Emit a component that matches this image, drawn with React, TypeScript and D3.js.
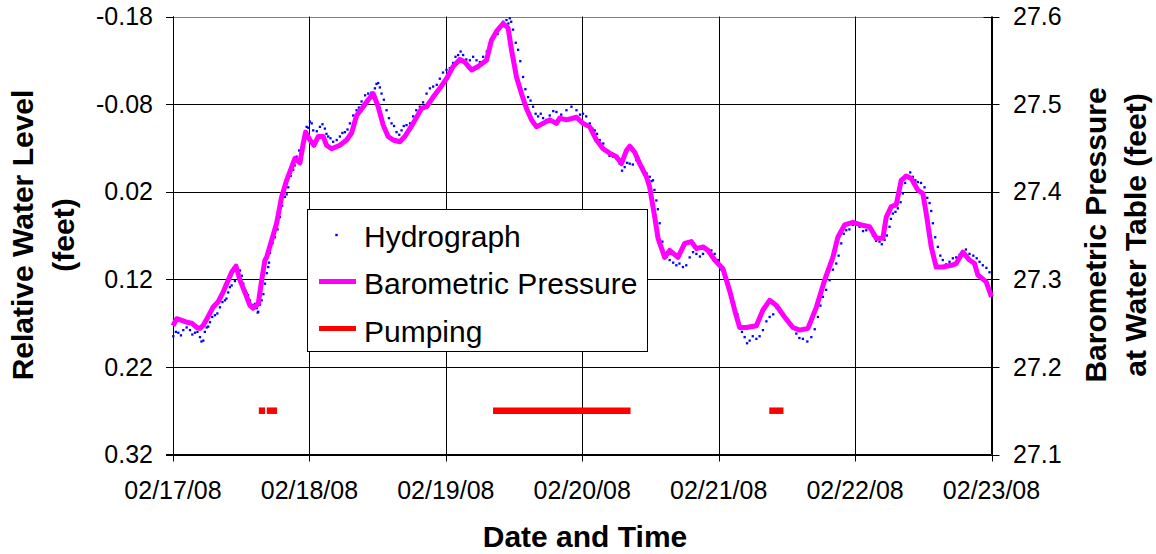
import React from "react";
import * as d3 from "d3";

// ---- Data (hours since 02/17/08 00:00) ----
// Hydrograph dot band, read in two passes (A: band centre, B: readings between them)
const hydroTimeA = [0.05,0.93,1.81,2.99,3.87,4.75,5.33,5.92,6.51,7.38,8.26,9.14,9.72,10.32,11.48,11.78,12.36,12.96,13.54,14.12,14.72,15.0,15.6,16.18,16.76,17.05,17.93,18.81,19.69,20.27,21.15,21.75,22.63,23.51,24.09,24.67,25.85,26.72,27.3,28.18,29.36,30.24,31.12,32.3,33.18,34.34,35.52,36.1,36.69,37.57,38.45,39.33,40.21,41.09,42.25,43.43,44.61,45.77,46.94,48.12,49.28,50.16,51.04,52.22,53.4,54.56,55.74,56.62,57.49,58.67,59.25,59.83,60.71,61.59,62.47,63.35,64.23,65.11,66.28,67.46,69.22,70.98,72.14,73.32,74.2,75.07,76.25,77.41,78.59,79.47,80.35,81.53,82.69,83.87,84.45,85.04,85.62,86.5,87.38,88.56,89.72,90.9,92.08,93.24,94.71,95.87,97.05,97.93,98.81,99.69,100.57,101.45,102.63,103.79,104.97,106.15,107.3,108.48,109.66,110.82,112.3,113.46,114.34,115.52,116.69,117.57,118.45,119.61,120.79,121.97,123.13,124.3,125.18,126.06,126.64,127.52,128.4,129.28,130.16,131.04,132.22,133.1,133.68,134.56,135.43,136.61,137.79,138.95,140.13,141.4,142.47,143.65];
const hydroLevelA = [0.185,0.181,0.178,0.178,0.181,0.186,0.190,0.175,0.169,0.161,0.152,0.144,0.135,0.127,0.113,0.110,0.125,0.136,0.144,0.150,0.153,0.157,0.144,0.125,0.106,0.090,0.072,0.049,0.026,0.015,-0.005,-0.020,-0.024,-0.054,-0.060,-0.050,-0.054,-0.052,-0.043,-0.037,-0.043,-0.048,-0.058,-0.073,-0.083,-0.092,-0.098,-0.104,-0.092,-0.073,-0.058,-0.048,-0.050,-0.056,-0.066,-0.077,-0.092,-0.100,-0.109,-0.119,-0.127,-0.136,-0.136,-0.130,-0.130,-0.134,-0.149,-0.157,-0.168,-0.176,-0.178,-0.165,-0.142,-0.111,-0.088,-0.077,-0.066,-0.064,-0.067,-0.071,-0.073,-0.073,-0.069,-0.058,-0.050,-0.039,-0.027,-0.020,-0.012,-0.008,-0.012,-0.016,-0.008,0.003,0.007,0.030,0.056,0.091,0.098,0.104,0.106,0.095,0.091,0.091,0.087,0.098,0.117,0.133,0.152,0.171,0.186,0.190,0.188,0.178,0.163,0.152,0.159,0.171,0.182,0.188,0.186,0.163,0.140,0.121,0.102,0.079,0.064,0.058,0.060,0.064,0.070,0.077,0.075,0.060,0.045,0.039,0.022,0.003,0.003,0.009,0.015,0.033,0.056,0.083,0.098,0.100,0.095,0.089,0.091,0.096,0.104,0.112];
const hydroTimeB = [0.5,1.4,2.4,3.4,4.3,5.0,5.6,6.2,6.9,7.8,8.7,9.4,10.0,10.9,11.6,12.1,12.7,13.2,13.8,14.4,14.9,15.3,15.9,16.5,16.9,17.5,18.4,19.2,20.0,20.7,21.4,22.2,23.1,23.8,24.4,25.3,26.3,27.0,27.7,28.8,29.8,30.7,31.7,32.7,33.8,34.9,35.8,36.4,37.1,38.0,38.9,39.8,40.6,41.7,42.8,44.0,45.2,46.4,47.5,48.7,49.7,50.6,51.6,52.8,54.0,55.2,56.2,57.1,58.1,59.0,59.5,60.3,61.1,62.0,62.9,63.8,64.7,65.7,66.9,68.3,70.1,71.6,72.7,73.8,74.6,75.7,76.8,78.0,79.0,79.9,80.9,82.1,83.3,84.2,84.7,85.3,86.1,86.9,88.0,89.1,90.3,91.5,92.7,94.0,95.3,96.5,97.5,98.4,99.3,100.1,101.0,102.0,103.2,104.4,105.6,106.7,107.9,109.1,110.2,111.6,112.9,113.9,114.9,116.1,117.1,118.0,119.0,120.2,121.4,122.6,123.7,124.7,125.6,126.3,127.1,128.0,128.8,129.7,130.6,131.6,132.7,133.4,134.1,135.0,136.0,137.2,138.4,139.5,140.8,141.9,143.1];
const hydroLevelB = [0.180,0.184,0.175,0.183,0.180,0.191,0.180,0.174,0.163,0.159,0.146,0.142,0.129,0.122,0.115,0.116,0.133,0.138,0.149,0.148,0.158,0.149,0.137,0.113,0.101,0.079,0.063,0.036,0.023,0.002,-0.010,-0.027,-0.042,-0.053,-0.058,-0.049,-0.057,-0.046,-0.041,-0.039,-0.047,-0.051,-0.067,-0.076,-0.090,-0.093,-0.103,-0.099,-0.085,-0.064,-0.055,-0.045,-0.055,-0.058,-0.073,-0.082,-0.098,-0.102,-0.116,-0.121,-0.134,-0.140,-0.131,-0.134,-0.128,-0.140,-0.155,-0.160,-0.174,-0.172,-0.174,-0.150,-0.129,-0.097,-0.084,-0.069,-0.069,-0.062,-0.072,-0.068,-0.077,-0.068,-0.066,-0.052,-0.046,-0.035,-0.021,-0.018,-0.004,-0.013,-0.011,-0.015,-0.001,0.008,0.018,0.040,0.077,0.094,0.101,0.102,0.104,0.089,0.094,0.086,0.091,0.109,0.123,0.145,0.160,0.180,0.193,0.185,0.185,0.168,0.160,0.153,0.167,0.175,0.187,0.191,0.177,0.150,0.132,0.109,0.093,0.068,0.063,0.055,0.065,0.063,0.076,0.080,0.070,0.051,0.043,0.032,0.010,-0.002,0.007,0.010,0.027,0.042,0.072,0.093,0.103,0.096,0.092,0.086,0.093,0.100,0.107];

const baroTime = [0,0.65,1.53,2.41,3.29,4.17,4.75,5.27,6.15,7.03,7.91,8.79,9.44,10.32,11.08,11.78,12.66,13.54,14.12,15.0,15.6,16.18,16.47,18.23,19.11,19.99,20.87,21.45,22.33,22.91,23.33,24.09,24.79,25.55,26.43,27.02,27.9,29.36,30.54,31.42,32.3,33.46,34.34,35.22,36.1,36.98,37.85,38.73,39.91,40.79,42.25,43.73,44.61,45.77,46.94,48.12,49.28,50.46,51.34,52.52,53.68,55.15,56.03,56.91,58.07,58.95,59.55,60.43,61.31,62.19,63.07,63.95,65.11,66.28,67.46,68.04,69.22,70.98,72.14,73.32,74.49,75.66,76.83,78.01,78.89,79.77,80.35,81.23,82.11,83.29,83.87,84.75,85.33,86.5,87.38,88.84,90.02,91.2,92.08,93.24,94.12,95.3,96.75,97.93,98.81,99.69,100.87,102.63,103.79,104.97,106.15,107.6,109.06,110.24,111.7,113.18,114.64,116.09,116.97,118.15,119.61,121.09,122.55,123.72,124.89,125.48,126.36,127.24,128.12,129.0,129.88,131.04,131.92,132.52,133.4,134.27,135.43,136.91,137.79,138.95,140.13,141.01,141.59,143.06,144];
const baroPressure = [27.247,27.255,27.253,27.251,27.250,27.245,27.244,27.247,27.257,27.268,27.274,27.285,27.295,27.308,27.315,27.299,27.285,27.270,27.267,27.272,27.299,27.322,27.325,27.364,27.394,27.413,27.428,27.438,27.433,27.455,27.468,27.459,27.453,27.463,27.463,27.453,27.449,27.453,27.459,27.467,27.487,27.497,27.505,27.512,27.497,27.476,27.463,27.459,27.457,27.463,27.478,27.495,27.497,27.508,27.518,27.529,27.543,27.551,27.548,27.539,27.543,27.550,27.573,27.583,27.592,27.587,27.562,27.531,27.512,27.495,27.482,27.474,27.478,27.482,27.478,27.484,27.482,27.485,27.478,27.474,27.459,27.449,27.444,27.440,27.432,27.447,27.452,27.445,27.432,27.417,27.405,27.371,27.347,27.325,27.333,27.325,27.341,27.343,27.335,27.337,27.333,27.322,27.312,27.287,27.265,27.245,27.245,27.247,27.265,27.276,27.270,27.257,27.245,27.242,27.244,27.268,27.299,27.325,27.348,27.362,27.365,27.362,27.360,27.347,27.347,27.371,27.383,27.385,27.413,27.418,27.415,27.402,27.398,27.375,27.337,27.314,27.314,27.316,27.318,27.331,27.322,27.318,27.305,27.297,27.280];

const pumpStart = [15.1, 16.5, 56.3, 104.9];
const pumpEnd = [16.2, 18.3, 80.5, 107.4];
const pumpLevel = 0.27;

const leftTicks = [-0.18, -0.08, 0.02, 0.12, 0.22, 0.32];
const rightTicks = [27.6, 27.5, 27.4, 27.3, 27.2, 27.1];
const dateLabels = ["02/17/08", "02/18/08", "02/19/08", "02/20/08", "02/21/08", "02/22/08", "02/23/08"];
const legendLabels = ["Hydrograph", "Barometric Pressure", "Pumping"];

const FONT = "'Liberation Sans', Arial, Helvetica, sans-serif";
const start = new Date(2008, 1, 17, 0, 0, 0).getTime();
const t = (h: number) => new Date(start + h * 3600 * 1000);

export default function App() {
  const L = 173, R = 991.5, T = 16.5, B = 454.5;
  const x = d3.scaleTime().domain([t(0), t(144)]).range([L, R]);
  const yL = d3.scaleLinear().domain([-0.18, 0.32]).range([T, B]);
  const yR = d3.scaleLinear().domain([27.6, 27.1]).range([T, B]);
  const dayTicks = dateLabels.map((_, i) => t(i * 24));

  const baroPts = baroTime.map((h, i) => [h, baroPressure[i]] as [number, number]);
  const line = d3.line<[number, number]>().x(d => x(t(d[0]))).y(d => yR(d[1]));
  const hydroPts = [
    ...hydroTimeA.map((h, i) => [h, hydroLevelA[i]] as [number, number]),
    ...hydroTimeB.map((h, i) => [h, hydroLevelB[i]] as [number, number]),
  ];

  const ds = 2.3;
  return (
    <svg width={1156} height={554} style={{ position: "absolute", left: 0, top: 0, background: "#fff" }} fontFamily={FONT}>
      <rect x={0} y={0} width={1156} height={554} fill="#fff" />
      {/* gridlines */}
      {leftTicks.map((v, i) => (
        <line key={"gh" + i} x1={L} x2={R} y1={Math.round(yL(v)) + 0.5} y2={Math.round(yL(v)) + 0.5} stroke={i === 0 ? "#808080" : "#000"} strokeWidth={1} />
      ))}
      {dayTicks.map((d, i) => (
        <line key={"gv" + i} x1={Math.round(x(d)) + 0.5} x2={Math.round(x(d)) + 0.5} y1={T} y2={B + 7} stroke="#000" strokeWidth={1} />
      ))}
      {/* left axis */}
      <line x1={L + 0.5} x2={L + 0.5} y1={T} y2={B} stroke="#000" />
      {leftTicks.map((v, i) => (
        <g key={"lt" + i}>
          <line x1={L - 7} x2={L} y1={Math.round(yL(v)) + 0.5} y2={Math.round(yL(v)) + 0.5} stroke="#000" />
          <text x={153} y={yL(v)} dy="0.35em" textAnchor="end" fontSize={25}>{v.toFixed(2)}</text>
        </g>
      ))}
      {/* right axis */}
      <line x1={R} x2={R} y1={T} y2={B} stroke="#000" />
      {rightTicks.map((v, i) => (
        <g key={"rt" + i}>
          <line x1={R - 8} x2={R + 8} y1={Math.round(yR(v)) + 0.5} y2={Math.round(yR(v)) + 0.5} stroke="#000" />
          <text x={1013} y={yR(v)} dy="0.35em" textAnchor="start" fontSize={25}>{v.toFixed(1)}</text>
        </g>
      ))}
      {/* bottom axis */}
      <line x1={L - 7} x2={R} y1={B} y2={B} stroke="#000" />
      {dayTicks.map((d, i) => (
        <text key={"xl" + i} x={x(d)} y={499} textAnchor="middle" fontSize={25}>{dateLabels[i]}</text>
      ))}

      {/* hydrograph dots */}
      {hydroPts.map((p, i) => (
        <rect key={"h" + i} x={x(t(p[0])) - ds / 2} y={yL(p[1]) - ds / 2} width={ds} height={ds} fill="#0000ff" />
      ))}
      {/* barometric */}
      <path d={line(baroPts) || ""} fill="none" stroke="#ff00ff" strokeWidth={5} strokeLinejoin="round" />
      {/* pumping */}
      {pumpStart.map((s, i) => (
        <line key={"p" + i} x1={x(t(s))} x2={x(t(pumpEnd[i]))} y1={yL(pumpLevel)} y2={yL(pumpLevel)} stroke="#ff0000" strokeWidth={6.5} strokeLinecap="butt" />
      ))}

      {/* legend */}
      <rect x={307.5} y={209.5} width={340} height={142} fill="#fff" stroke="#000" strokeWidth={1} />
      <rect x={336.5 - 1.2} y={235 - 1.2} width={2.4} height={2.4} fill="#0000ff" />
      <line x1={319} x2={356} y1={281.5} y2={281.5} stroke="#ff00ff" strokeWidth={5} />
      <line x1={319} x2={356} y1={328.5} y2={328.5} stroke="#ff0000" strokeWidth={5} />
      {legendLabels.map((s, i) => (
        <text key={"lg" + i} x={364} y={246.5 + i * 47.5} fontSize={30}>{s}</text>
      ))}

      {/* axis titles */}
      <g transform="translate(33,235) rotate(-90)">
        <text x={0} y={0} textAnchor="middle" fontSize={30} fontWeight="bold">Relative Water Level</text>
        <text x={0} y={41} textAnchor="middle" fontSize={30} fontWeight="bold">(feet)</text>
      </g>
      <g transform="translate(1106,235) rotate(-90)">
        <text x={0} y={0} textAnchor="middle" fontSize={30} fontWeight="bold">Barometric Pressure</text>
        <text x={0} y={40} textAnchor="middle" fontSize={30} fontWeight="bold">at Water Table (feet)</text>
      </g>
      <text x={585} y={547} textAnchor="middle" fontSize={30} fontWeight="bold">Date and Time</text>
    </svg>
  );
}
